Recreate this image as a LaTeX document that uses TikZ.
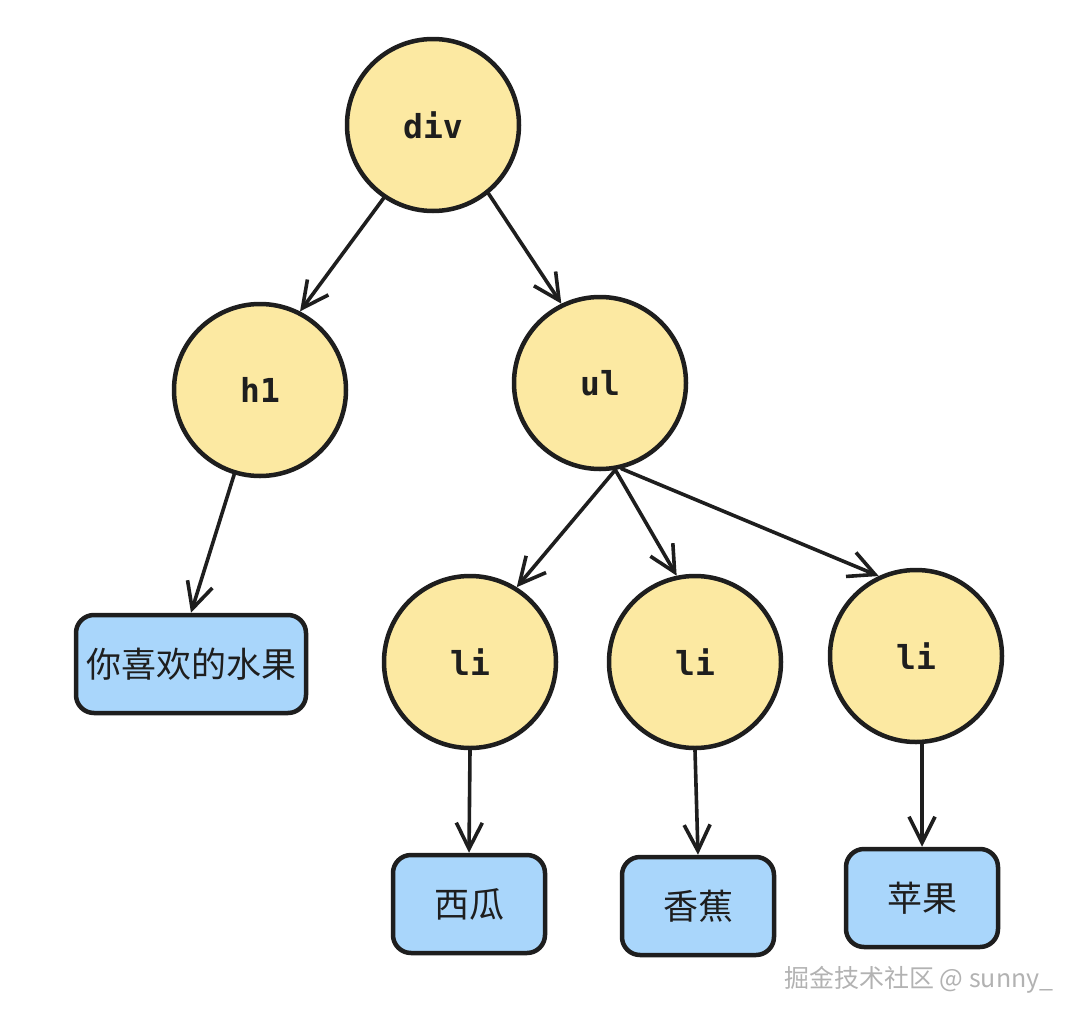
\documentclass[tikz,border=0pt]{standalone}
\usepackage{fontspec}
\setmonofont{DejaVu Sans Mono}
\newfontfamily\cjk{Noto Sans CJK SC}
\usetikzlibrary{arrows.meta}
\definecolor{ink}{HTML}{1E1E1E}
\definecolor{tagyellow}{HTML}{FCE9A2}
\definecolor{leafblue}{HTML}{A9D6FB}

\begin{document}
\begin{tikzpicture}[x=1pt,y=-1pt,>={Straight Barb[length=26pt,width=26pt]},line join=round]
  \tikzstyle{tag}=[circle,line width=4.5pt,draw=ink,fill=tagyellow,text=ink,minimum size=172pt,inner sep=0pt,font=\ttfamily\bfseries\fontsize{33}{33}\selectfont]
  \tikzstyle{leaf}=[rectangle,rounded corners=18pt,line width=4.5pt,draw=ink,fill=leafblue,text=ink,minimum width=152pt,minimum height=98pt,inner xsep=10pt,font=\cjk\fontsize{35}{35}\selectfont]
  \tikzstyle{link}=[->,line width=3.6pt,draw=ink,line cap=round]

  \useasboundingbox (0,0) rectangle (1082,1020);

  % tags
  \node [tag] (div) at (433,125) {div};
  \node [tag] (h1)  at (260,390) {h1};
  \node [tag] (ul)  at (600,383) {ul};
  \node [tag] (li1) at (470,662) {li};
  \node [tag] (li2) at (695,662) {li};
  \node [tag] (li3) at (916,656) {li};

  % text leaves
  \node [leaf] (title)  at (191,664) {你喜欢的水果};
  \node [leaf] (melon)  at (469,904) {西瓜};
  \node [leaf] (banana) at (698,906) {香蕉};
  \node [leaf] (apple)  at (922,898) {苹果};

  \draw [link] (div.236) -- (h1.63);
  \draw [link] (div.309) -- (ul.116);
  \draw [link] (h1.253) -- (title.north);
  \draw [link] (ul.280) -- (li1.58);
  \draw [link] (ul.280) -- (li2.102);
  \draw [link] (ul.284) -- (li3.115);
  \draw [link] (li1.south) -- (melon.north);
  \draw [link] (li2.south) -- (banana.north);
  \draw [link] (apple.north |- li3.south) -- (apple.north);

  \node [text=gray!60,font=\cjk\fontsize{25}{25}\selectfont] (mark) at (919,980) {掘金技术社区 @ sunny\_};
\end{tikzpicture}
\end{document}
